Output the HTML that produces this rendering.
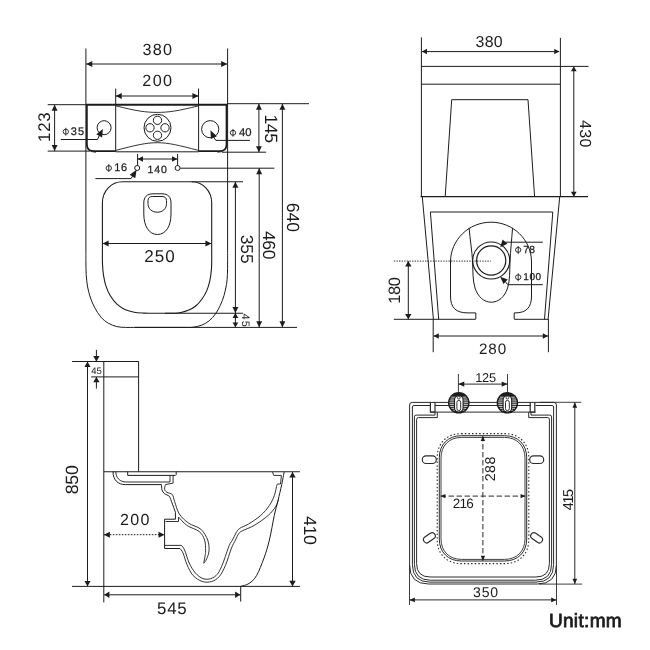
<!DOCTYPE html>
<html><head><meta charset="utf-8"><title>Toilet dimensions</title>
<style>
html,body{margin:0;padding:0;background:#fff;}
body{width:650px;height:650px;overflow:hidden;}
svg{display:block;will-change:transform;}
text{font-family:"Liberation Sans",sans-serif;text-rendering:geometricPrecision;}
</style></head><body>
<svg width="650" height="650" viewBox="0 0 650 650">
<rect width="650" height="650" fill="#fff"/>
<path d="M85.9 48.5V250C85.9 252.0 85.9 257.9 85.9 262.0C86.0 266.1 85.9 270.5 86.2 274.6C86.5 278.8 86.9 283.0 87.6 286.9C88.3 290.8 89.3 294.5 90.5 298.0C91.7 301.5 93.1 304.6 94.8 307.8C96.5 311.0 98.7 314.5 100.9 317.1C103.2 319.7 105.6 321.6 108.3 323.2C111.0 324.8 114.0 325.9 116.9 326.6C119.8 327.3 122.5 327.3 125.5 327.4C128.5 327.5 133.4 327.4 135.0 327.4H185C186.4 327.4 190.4 327.6 193.2 327.2C196.0 326.8 199.1 326.2 201.8 325.1C204.5 324.0 206.9 322.7 209.2 320.8C211.5 318.9 213.6 316.6 215.4 314.0C217.2 311.4 218.9 308.5 220.3 305.4C221.7 302.3 223.0 299.0 224.0 295.5C225.0 292.0 225.9 288.0 226.5 284.5C227.1 281.0 227.2 278.4 227.4 274.6C227.6 270.9 227.6 266.1 227.6 262.0C227.6 257.9 227.6 252.0 227.6 250.0V48.5" stroke="#1c1c1c" stroke-width="1.0" fill="none" stroke-linejoin="round"/>
<path d="M86.2 64L227.2 64" stroke="#1c1c1c" stroke-width="1.0" fill="none"/>
<path d="M86.20 64.00L92.25 61.03L92.25 66.97Z" fill="#1c1c1c" stroke="none"/>
<path d="M227.20 64.00L221.15 66.97L221.15 61.03Z" fill="#1c1c1c" stroke="none"/>
<text x="142.50" y="55.29" font-size="16.20" letter-spacing="1.27" font-weight="normal" fill="#1c1c1c">380</text>
<path d="M115.7 88.6L115.7 104" stroke="#1c1c1c" stroke-width="1.0" fill="none"/>
<path d="M198.5 88.6L198.5 104" stroke="#1c1c1c" stroke-width="1.0" fill="none"/>
<path d="M115.7 96L198.5 96" stroke="#1c1c1c" stroke-width="1.0" fill="none"/>
<path d="M115.70 96.00L121.75 93.03L121.75 98.97Z" fill="#1c1c1c" stroke="none"/>
<path d="M198.50 96.00L192.45 98.97L192.45 93.03Z" fill="#1c1c1c" stroke="none"/>
<text x="142.34" y="85.99" font-size="16.20" letter-spacing="1.35" font-weight="normal" fill="#1c1c1c">200</text>
<path d="M47.7 104.7L86 104.7" stroke="#1c1c1c" stroke-width="1.0" fill="none"/>
<path d="M227 103.7L309 103.7" stroke="#1c1c1c" stroke-width="1.0" fill="none"/>
<path d="M86.2 104.7L227.2 104.7" stroke="#1c1c1c" stroke-width="2.1" fill="none"/>
<path d="M47.7 151.1L90 151.1" stroke="#1c1c1c" stroke-width="1.0" fill="none"/>
<path d="M222 152.2L266.2 152.2" stroke="#1c1c1c" stroke-width="1.0" fill="none"/>
<path d="M54.6 104.7L54.6 151.1" stroke="#1c1c1c" stroke-width="1.0" fill="none"/>
<path d="M54.60 104.70L57.57 110.75L51.63 110.75Z" fill="#1c1c1c" stroke="none"/>
<path d="M54.60 151.10L51.63 145.05L57.57 145.05Z" fill="#1c1c1c" stroke="none"/>
<text x="28.80" y="132.73" font-size="16.90" letter-spacing="0.64" font-weight="normal" fill="#1c1c1c" transform="rotate(-90 43.8 126.9)">123</text>
<path d="M258.9 103.7L258.9 152.2" stroke="#1c1c1c" stroke-width="1.0" fill="none"/>
<path d="M258.90 103.70L261.87 109.75L255.93 109.75Z" fill="#1c1c1c" stroke="none"/>
<path d="M258.90 152.20L255.93 146.15L261.87 146.15Z" fill="#1c1c1c" stroke="none"/>
<text x="256.32" y="135.27" font-size="17.86" letter-spacing="-0.59" font-weight="normal" fill="#1c1c1c" transform="rotate(90 271 129.2)">145</text>
<path d="M86.9 104.2V144.5Q86.9 151.2 94 151.2H115.7" stroke="#1c1c1c" stroke-width="1.7" fill="none" stroke-linejoin="round"/>
<path d="M198.6 151.2H219.5Q226.5 151.2 226.5 144.5V104.2" stroke="#1c1c1c" stroke-width="1.7" fill="none" stroke-linejoin="round"/>
<path d="M115.7 151.8L198.6 151.8" stroke="#1c1c1c" stroke-width="1" fill="none"/>
<path d="M86.4 142Q86.4 152.3 96 152.3M227.0 142Q227.0 152.3 217.5 152.3" stroke="#1c1c1c" stroke-width="0.8" fill="none" stroke-linejoin="round"/>
<path d="M115.7 104.2L115.7 151.8" stroke="#1c1c1c" stroke-width="1.0" fill="none"/>
<path d="M198.6 104.2L198.6 151.8" stroke="#1c1c1c" stroke-width="1.0" fill="none"/>
<path d="M115.7 105.8C136 111 146 112.4 157.2 112.4S178 111 198.6 105.8" stroke="#1c1c1c" stroke-width="0.9" fill="none" stroke-linejoin="round"/>
<path d="M115.7 150.4C136 145.1 146 142.7 157.2 142.7S178 145.1 198.6 150.4" stroke="#1c1c1c" stroke-width="0.9" fill="none" stroke-linejoin="round"/>
<circle cx="157.5" cy="127.8" r="13.5" stroke="#1c1c1c" stroke-width="1.0" fill="none"/>
<circle cx="157.5" cy="120.3" r="4.15" stroke="#1c1c1c" stroke-width="1.0" fill="none"/>
<circle cx="157.5" cy="135.3" r="4.15" stroke="#1c1c1c" stroke-width="1.0" fill="none"/>
<circle cx="150.0" cy="127.8" r="4.15" stroke="#1c1c1c" stroke-width="1.0" fill="none"/>
<circle cx="165.0" cy="127.8" r="4.15" stroke="#1c1c1c" stroke-width="1.0" fill="none"/>
<circle cx="104.1" cy="127.7" r="7" stroke="#1c1c1c" stroke-width="1.0" fill="none"/>
<path d="M60.9 139.5H97.5L99.7 134.9" stroke="#1c1c1c" stroke-width="1" fill="none" stroke-linejoin="round"/>
<path d="M102.90 129.00L102.09 137.41L96.29 134.26Z" fill="#1c1c1c" stroke="none"/>
<ellipse cx="65.8" cy="131.7" rx="2.7" ry="2.45" stroke="#1c1c1c" stroke-width="0.9" fill="none"/>
<path d="M65.8 127.79999999999998L65.8 135.6" stroke="#1c1c1c" stroke-width="0.9" fill="none"/>
<text x="70.81" y="134.79" font-size="10.99" letter-spacing="0.98" font-weight="normal" fill="#1c1c1c" stroke="#1c1c1c" stroke-width="0.25">35</text>
<circle cx="210.2" cy="129.2" r="8.6" stroke="#1c1c1c" stroke-width="1.0" fill="none"/>
<path d="M250 140.4H215.8L213.7 137.2" stroke="#1c1c1c" stroke-width="1" fill="none" stroke-linejoin="round"/>
<path d="M210.50 130.30L216.87 136.15L210.89 138.94Z" fill="#1c1c1c" stroke="none"/>
<ellipse cx="233" cy="132.8" rx="2.7" ry="2.45" stroke="#1c1c1c" stroke-width="0.9" fill="none"/>
<path d="M233 128.9L233 136.70000000000002" stroke="#1c1c1c" stroke-width="0.9" fill="none"/>
<text x="238.92" y="136.09" font-size="11.27" letter-spacing="0.07" font-weight="normal" fill="#1c1c1c" stroke="#1c1c1c" stroke-width="0.25">40</text>
<path d="M137.6 153.9L137.6 165.6" stroke="#1c1c1c" stroke-width="1.0" fill="none"/>
<path d="M177.6 153.9L177.6 165.6" stroke="#1c1c1c" stroke-width="1.0" fill="none"/>
<path d="M137.6 159L177.4 159" stroke="#1c1c1c" stroke-width="1.0" fill="none"/>
<path d="M137.60 159.00L143.00 156.36L143.00 161.64Z" fill="#1c1c1c" stroke="none"/>
<path d="M177.40 159.00L172.00 161.64L172.00 156.36Z" fill="#1c1c1c" stroke="none"/>
<text x="147.55" y="173.24" font-size="10.56" letter-spacing="0.91" font-weight="normal" fill="#1c1c1c" stroke="#1c1c1c" stroke-width="0.25">140</text>
<circle cx="137.2" cy="168" r="2.5" stroke="#1c1c1c" stroke-width="1.0" fill="none"/>
<circle cx="177.6" cy="168" r="2.5" stroke="#1c1c1c" stroke-width="1.0" fill="none"/>
<ellipse cx="108.8" cy="168.1" rx="2.7" ry="2.45" stroke="#1c1c1c" stroke-width="0.9" fill="none"/>
<path d="M108.8 164.2L108.8 172.0" stroke="#1c1c1c" stroke-width="0.9" fill="none"/>
<text x="114.32" y="171.19" font-size="10.99" letter-spacing="0.52" font-weight="normal" fill="#1c1c1c" stroke="#1c1c1c" stroke-width="0.25">16</text>
<path d="M95.4 178.6H131L133 175.5" stroke="#1c1c1c" stroke-width="1" fill="none" stroke-linejoin="round"/>
<path d="M136.60 169.80L135.28 178.14L129.68 174.65Z" fill="#1c1c1c" stroke="none"/>
<path d="M180.2 168.2L274.4 168.2" stroke="#1c1c1c" stroke-width="1.0" fill="none"/>
<path d="M243 181.8H122.4A20 21 0 0 0 102.4 202.8V250C102.4 252.3 102.3 259.9 102.5 264.0C102.7 268.1 102.9 271.0 103.4 274.6C104.0 278.2 104.7 282.2 105.8 285.7C106.9 289.2 108.3 292.4 110.2 295.5C112.1 298.6 114.4 301.8 116.9 304.2C119.5 306.6 122.6 308.4 125.5 309.7C128.4 311.0 131.1 311.6 134.2 312.2C137.3 312.8 141.0 312.9 144.0 313.1C147.0 313.3 150.7 313.2 152.0 313.2H243" stroke="#1c1c1c" stroke-width="1.1" fill="none" stroke-linejoin="round"/>
<path d="M165.0 313.2C166.6 313.2 172.2 313.3 174.8 313.2C177.5 313.1 178.7 313.0 180.9 312.5C183.2 312.0 185.8 311.4 188.3 310.3C190.8 309.2 193.4 307.9 195.7 306.0C197.9 304.1 200.0 301.8 201.8 299.2C203.7 296.6 205.5 293.7 206.8 290.6C208.1 287.5 209.0 284.3 209.8 280.8C210.6 277.3 211.1 272.8 211.4 269.7C211.7 266.6 211.6 265.6 211.7 262.3C211.8 259.0 211.7 252.1 211.7 250.0V202.8A20 21 0 0 0 191.7 181.8" stroke="#1c1c1c" stroke-width="1.1" fill="none" stroke-linejoin="round"/>
<path d="M135 327.4L297 327.4" stroke="#1c1c1c" stroke-width="1.0" fill="none"/>
<path d="M143.8 203C143.8 197 147 193.8 153 193.8H162C168 193.8 171 197 171 203V214C171 226 166 234.5 157.4 234.5C149 234.5 143.8 226 143.8 214Z" stroke="#1c1c1c" stroke-width="1.0" fill="none" stroke-linejoin="round"/>
<path d="M148 200.5C148 198 149.5 196.5 152.5 196.5H162C165 196.5 166.5 198 166.5 200.5V203.5C166.5 209 162.5 212.2 157.2 212.2C152 212.2 148 209 148 203.5Z" stroke="#1c1c1c" stroke-width="1.0" fill="none" stroke-linejoin="round"/>
<path d="M102.6 243.5L211.5 243.5" stroke="#1c1c1c" stroke-width="1.0" fill="none"/>
<path d="M102.60 243.50L108.65 240.53L108.65 246.47Z" fill="#1c1c1c" stroke="none"/>
<path d="M211.50 243.50L205.45 246.47L205.45 240.53Z" fill="#1c1c1c" stroke="none"/>
<text x="144.35" y="262.18" font-size="17.04" letter-spacing="1.04" font-weight="normal" fill="#1c1c1c">250</text>
<path d="M235.4 181.8L235.4 313.1" stroke="#1c1c1c" stroke-width="1.0" fill="none"/>
<path d="M235.40 181.80L238.37 187.85L232.43 187.85Z" fill="#1c1c1c" stroke="none"/>
<path d="M235.40 313.10L232.43 307.05L238.37 307.05Z" fill="#1c1c1c" stroke="none"/>
<text x="232.51" y="255.18" font-size="17.32" letter-spacing="-0.07" font-weight="normal" fill="#1c1c1c" transform="rotate(90 246.9 249.2)">355</text>
<path d="M235.4 313.1L235.4 327.3" stroke="#1c1c1c" stroke-width="1.0" fill="none"/>
<path d="M235.40 313.10L238.26 317.96L232.54 317.96Z" fill="#1c1c1c" stroke="none"/>
<path d="M235.40 327.30L232.54 322.44L238.26 322.44Z" fill="#1c1c1c" stroke="none"/>
<text x="239.33" y="323.69" font-size="10.86" letter-spacing="1.10" font-weight="normal" fill="#1c1c1c" transform="rotate(90 245.8 320)">45</text>
<path d="M259.2 168.2L259.2 327.3" stroke="#1c1c1c" stroke-width="1.0" fill="none"/>
<path d="M259.20 168.20L262.17 174.25L256.23 174.25Z" fill="#1c1c1c" stroke="none"/>
<path d="M259.20 327.30L256.23 321.25L262.17 321.25Z" fill="#1c1c1c" stroke="none"/>
<text x="255.10" y="251.07" font-size="17.61" letter-spacing="-0.42" font-weight="normal" fill="#1c1c1c" transform="rotate(90 269.2 245)">460</text>
<path d="M282.4 103.7L282.4 327.3" stroke="#1c1c1c" stroke-width="1.0" fill="none"/>
<path d="M282.40 103.70L285.37 109.75L279.43 109.75Z" fill="#1c1c1c" stroke="none"/>
<path d="M282.40 327.30L279.43 321.25L285.37 321.25Z" fill="#1c1c1c" stroke="none"/>
<text x="277.87" y="223.47" font-size="17.61" letter-spacing="-0.06" font-weight="normal" fill="#1c1c1c" transform="rotate(90 292.6 217.4)">640</text>
<path d="M421.4 37.4L421.4 196.7" stroke="#1c1c1c" stroke-width="1.0" fill="none"/>
<path d="M560.4 37.8L560.4 196.7" stroke="#1c1c1c" stroke-width="1.0" fill="none"/>
<path d="M422 51.6L559.2 51.6" stroke="#1c1c1c" stroke-width="1.0" fill="none"/>
<path d="M422.00 51.60L426.97 48.85L426.97 54.35Z" fill="#1c1c1c" stroke="none"/>
<path d="M559.20 51.60L554.23 54.35L554.23 48.85Z" fill="#1c1c1c" stroke="none"/>
<text x="475.61" y="46.69" font-size="15.92" letter-spacing="0.20" font-weight="normal" fill="#1c1c1c">380</text>
<path d="M421.4 66.4L588.5 66.4" stroke="#1c1c1c" stroke-width="1.0" fill="none"/>
<path d="M421.4 84.2L560 84.2" stroke="#1c1c1c" stroke-width="1.0" fill="none"/>
<path d="M420.6 196.7L588 196.7" stroke="#1c1c1c" stroke-width="1.2" fill="none"/>
<path d="M445.2 196.7L451.7 99.7H528L534.6 196.7" stroke="#1c1c1c" stroke-width="1.0" fill="none" stroke-linejoin="round"/>
<path d="M573.8 66.4L573.8 196.7" stroke="#1c1c1c" stroke-width="1.0" fill="none"/>
<path d="M573.80 66.40L576.66 71.37L570.94 71.37Z" fill="#1c1c1c" stroke="none"/>
<path d="M573.80 196.70L570.94 191.73L576.66 191.73Z" fill="#1c1c1c" stroke="none"/>
<text x="572.43" y="139.04" font-size="16.06" letter-spacing="0.32" font-weight="normal" fill="#1c1c1c" transform="rotate(90 586 133.5)">430</text>
<path d="M422.3 197L433.4 319" stroke="#1c1c1c" stroke-width="1.0" fill="none"/>
<path d="M559.7 197L548.1 319" stroke="#1c1c1c" stroke-width="1.0" fill="none"/>
<path d="M438.7 319.3L430.4 212H552.8L544.5 319.3" stroke="#1c1c1c" stroke-width="1.0" fill="none" stroke-linejoin="round"/>
<path d="M393.8 319.3L475.8 319.3" stroke="#1c1c1c" stroke-width="1.0" fill="none"/>
<path d="M514.2 319.3L548.3 319.3" stroke="#1c1c1c" stroke-width="1.0" fill="none"/>
<path d="M433.2 319L433.2 352.2" stroke="#1c1c1c" stroke-width="1.0" fill="none"/>
<path d="M548.4 319L548.4 352.2" stroke="#1c1c1c" stroke-width="1.0" fill="none"/>
<path d="M433.6 336L548 336" stroke="#1c1c1c" stroke-width="1.0" fill="none"/>
<path d="M433.60 336.00L438.78 333.36L438.78 338.64Z" fill="#1c1c1c" stroke="none"/>
<path d="M548.00 336.00L542.82 338.64L542.82 333.36Z" fill="#1c1c1c" stroke="none"/>
<text x="478.94" y="354.45" font-size="15.21" letter-spacing="0.98" font-weight="normal" fill="#1c1c1c">280</text>
<path d="M475.8 319V312.9H468C456 312.9 450.5 308 450.5 296V262C450.5 240 468.6 222.2 491 222.2C513.4 222.2 531.5 240 531.5 262V296C531.5 308 526 312.9 515 312.9H514.2V319" stroke="#1c1c1c" stroke-width="1.0" fill="none" stroke-linejoin="round"/>
<path d="M469.1 227.8C470 240 472 250 472.6 262C473 272 472.6 280 475 288C478 297 484 302.2 491.3 302.2C498.6 302.2 504.6 297 507.6 288C510 280 509.6 272 510 262C510.6 250 511.6 240 512.6 227.8" stroke="#1c1c1c" stroke-width="1.0" fill="none" stroke-linejoin="round"/>
<circle cx="491.2" cy="260.5" r="18.5" stroke="#1c1c1c" stroke-width="1.1" fill="none"/>
<circle cx="491.2" cy="260.5" r="14.6" stroke="#1c1c1c" stroke-width="1.2" fill="none"/>
<path d="M393.8 261.1L490.8 261.1" stroke="#1c1c1c" stroke-width="0.9" fill="none" stroke-dasharray="1.4 1.2"/>
<path d="M408.3 261.1L408.3 319.3" stroke="#1c1c1c" stroke-width="1.0" fill="none"/>
<path d="M408.30 261.10L411.49 266.50L405.11 266.50Z" fill="#1c1c1c" stroke="none"/>
<path d="M408.30 319.30L405.11 313.90L411.49 313.90Z" fill="#1c1c1c" stroke="none"/>
<text x="380.38" y="295.69" font-size="16.48" letter-spacing="-0.47" font-weight="normal" fill="#1c1c1c" transform="rotate(-90 394 290)">180</text>
<path d="M504.5 242.2L542.8 242.2" stroke="#1c1c1c" stroke-width="1.0" fill="none"/>
<path d="M500.20 247.20L502.57 239.55L507.41 243.71Z" fill="#1c1c1c" stroke="none"/>
<path d="M507.8 284.7L542.8 284.7" stroke="#1c1c1c" stroke-width="1.0" fill="none"/>
<path d="M500.20 276.80L507.77 279.41L503.46 284.11Z" fill="#1c1c1c" stroke="none"/>
<path d="M507.8 284.7L505 281.2" stroke="#1c1c1c" stroke-width="1.0" fill="none"/>
<ellipse cx="518.2" cy="249.9" rx="2.7" ry="2.45" stroke="#1c1c1c" stroke-width="0.9" fill="none"/>
<path d="M518.2 246.0L518.2 253.8" stroke="#1c1c1c" stroke-width="0.9" fill="none"/>
<text x="523.19" y="252.55" font-size="10.28" letter-spacing="0.31" font-weight="normal" fill="#1c1c1c" stroke="#1c1c1c" stroke-width="0.25">78</text>
<ellipse cx="518.2" cy="277.2" rx="2.7" ry="2.45" stroke="#1c1c1c" stroke-width="0.9" fill="none"/>
<path d="M518.2 273.3L518.2 281.09999999999997" stroke="#1c1c1c" stroke-width="0.9" fill="none"/>
<text x="523.30" y="280.05" font-size="10.00" letter-spacing="0.55" font-weight="normal" fill="#1c1c1c" stroke="#1c1c1c" stroke-width="0.25">100</text>
<path d="M72.1 361.5L138.6 361.5" stroke="#1c1c1c" stroke-width="1.0" fill="none"/>
<path d="M91.2 376.9L138.6 376.9" stroke="#1c1c1c" stroke-width="1.0" fill="none"/>
<path d="M103.8 361.4L103.8 602.4" stroke="#1c1c1c" stroke-width="1.0" fill="none"/>
<path d="M138.6 361.4L138.6 471.6" stroke="#1c1c1c" stroke-width="1.0" fill="none"/>
<path d="M87.5 361.5L87.5 586.4" stroke="#1c1c1c" stroke-width="1.0" fill="none"/>
<path d="M87.50 361.50L90.58 366.90L84.42 366.90Z" fill="#1c1c1c" stroke="none"/>
<path d="M87.50 586.40L84.42 581.00L90.58 581.00Z" fill="#1c1c1c" stroke="none"/>
<text x="57.54" y="485.82" font-size="17.75" letter-spacing="-0.26" font-weight="normal" fill="#1c1c1c" transform="rotate(-90 72.1 479.7)">850</text>
<path d="M96.4 349.8L96.4 361.4" stroke="#1c1c1c" stroke-width="1.0" fill="none"/>
<path d="M96.40 361.40L93.21 356.11L99.59 356.11Z" fill="#1c1c1c" stroke="none"/>
<path d="M96.4 388.6L96.4 377" stroke="#1c1c1c" stroke-width="1.0" fill="none"/>
<path d="M96.40 377.00L99.59 382.29L93.21 382.29Z" fill="#1c1c1c" stroke="none"/>
<text x="91.26" y="373.85" font-size="9.57" letter-spacing="0.05" font-weight="normal" fill="#1c1c1c">45</text>
<path d="M103.8 471.8L299.9 471.8" stroke="#1c1c1c" stroke-width="1.1" fill="none"/>
<path d="M72 586.4L299.9 586.4" stroke="#1c1c1c" stroke-width="1.0" fill="none"/>
<path d="M292.5 471.9L292.5 586.4" stroke="#1c1c1c" stroke-width="1.0" fill="none"/>
<path d="M292.50 471.90L295.69 477.52L289.31 477.52Z" fill="#1c1c1c" stroke="none"/>
<path d="M292.50 586.40L289.31 580.78L295.69 580.78Z" fill="#1c1c1c" stroke="none"/>
<text x="295.90" y="536.42" font-size="17.75" letter-spacing="-0.44" font-weight="normal" fill="#1c1c1c" transform="rotate(90 310.1 530.3)">410</text>
<path d="M240.7 586.4L240.7 601.6" stroke="#1c1c1c" stroke-width="1.0" fill="none"/>
<path d="M104.2 594.8L240.3 594.8" stroke="#1c1c1c" stroke-width="1.0" fill="none"/>
<path d="M104.20 594.80L109.38 591.61L109.38 597.99Z" fill="#1c1c1c" stroke="none"/>
<path d="M240.30 594.80L235.12 597.99L235.12 591.61Z" fill="#1c1c1c" stroke="none"/>
<text x="157.03" y="613.83" font-size="16.86" letter-spacing="0.75" font-weight="normal" fill="#1c1c1c">545</text>
<path d="M127.7 471.6V475.4H175.4L176.2 474.6V471.6" stroke="#1c1c1c" stroke-width="1.0" fill="none" stroke-linejoin="round"/>
<path d="M113 471.6C113 480 118 484.6 125.4 484.6H161.5 C161.6 485.5 161.5 488.5 162.0 490.0C162.5 491.5 163.4 492.8 164.6 493.8C165.8 494.8 168.0 494.9 169.2 496.2C170.3 497.5 170.5 498.8 171.5 501.5C172.5 504.2 174.8 510.5 175.4 512.3V519.2H164.6V548.5H180" stroke="#1c1c1c" stroke-width="1" fill="none" stroke-linejoin="round"/>
<path d="M115.8 471.6C115.8 478 120 482 126.2 482H170V475.4M173.1 475.4V483.1L165.4 484.6" stroke="#1c1c1c" stroke-width="0.9" fill="none" stroke-linejoin="round"/>
<path d="M165.4 484.6C165.3 485.4 164.3 487.9 164.6 489.2C164.8 490.5 165.6 491.4 166.9 492.3C168.2 493.2 171.0 493.1 172.3 494.6C173.6 496.1 173.4 498.3 174.6 501.5C175.8 504.7 176.9 510.2 179.2 513.8C181.5 517.4 184.9 520.5 188.5 523.1C192.1 525.7 197.6 526.4 200.8 529.2C204.0 532.0 206.3 536.4 207.7 540.0C209.1 543.6 209.2 547.6 209.0 550.8C208.8 554.0 207.5 556.9 206.6 559.0C205.7 561.1 204.3 562.5 203.8 563.2" stroke="#1c1c1c" stroke-width="0.9" fill="none" stroke-linejoin="round"/>
<path d="M203.8 563.2C204.0 562.0 204.7 558.1 205.0 556.0C205.3 553.9 205.7 553.5 205.6 550.8C205.5 548.1 205.7 543.2 204.6 540.0C203.5 536.8 202.1 533.9 199.2 531.5C196.2 529.1 190.3 527.8 186.9 525.4C183.5 523.0 179.9 518.4 178.5 517.0V521.5H165.6" stroke="#1c1c1c" stroke-width="0.9" fill="none" stroke-linejoin="round"/>
<path d="M180.0 548.5C180.5 549.2 181.8 550.3 183.0 553.0C184.2 555.7 185.3 560.9 187.0 564.6C188.7 568.3 190.4 572.6 193.0 575.4C195.6 578.2 199.2 580.5 202.3 581.5C205.4 582.5 208.7 582.3 211.5 581.5C214.3 580.7 216.9 579.3 219.2 576.6C221.5 573.9 223.3 570.3 225.4 565.5C227.5 560.7 229.8 552.2 231.5 548.0C233.2 543.8 234.3 542.4 235.5 540.0C236.7 537.6 237.5 535.3 238.6 533.8C239.7 532.3 239.6 532.2 242.3 530.8C245.0 529.4 250.3 527.8 254.6 525.2C258.9 522.6 264.7 518.5 268.2 515.4C271.7 512.3 273.8 509.5 275.5 506.8C277.2 504.1 278.1 500.6 278.6 499.4" stroke="#1c1c1c" stroke-width="0.9" fill="none" stroke-linejoin="round"/>
<path d="M164.6 545.4H181.5C182.0 546.2 183.3 547.1 184.6 550.0C185.9 552.9 187.4 559.2 189.2 563.0C191.0 566.8 193.1 570.4 195.4 573.0C197.7 575.6 200.4 577.7 203.0 578.6C205.6 579.5 208.4 579.4 210.8 578.6C213.2 577.8 215.7 576.4 217.7 573.8C219.7 571.2 221.1 567.7 223.0 563.0C224.9 558.3 227.6 549.3 229.2 545.5C230.8 541.7 231.3 542.1 232.5 540.0C233.7 537.9 235.0 534.6 236.2 532.6C237.4 530.6 237.8 529.7 239.8 528.3C241.9 526.9 245.0 526.1 248.5 524.0C252.0 521.9 257.3 518.5 260.8 515.4C264.3 512.3 267.1 508.8 269.4 505.5C271.6 502.2 273.1 498.9 274.3 495.7C275.5 492.5 276.0 488.4 276.5 486.5C277.0 484.6 277.2 484.4 277.4 484.0H280.5L281.4 475.4H273.7L272.5 471.9" stroke="#1c1c1c" stroke-width="0.9" fill="none" stroke-linejoin="round"/>
<path d="M284.2 471.9C283.8 474.0 282.7 479.8 281.7 484.6C280.7 489.4 279.2 495.5 278.0 500.6C276.8 505.7 275.7 508.8 274.3 515.4C272.9 522.0 271.1 532.9 269.4 540.0C267.7 547.1 266.1 552.1 264.0 558.0C261.9 563.9 259.1 571.2 256.6 575.5C254.1 579.8 251.7 581.7 249.0 583.5C246.3 585.3 242.0 585.9 240.6 586.4" stroke="#1c1c1c" stroke-width="1" fill="none" stroke-linejoin="round"/>
<path d="M103.8 534.7L164.6 534.7" stroke="#1c1c1c" stroke-width="1.0" fill="none" stroke-dasharray="1.6 1.4"/>
<path d="M103.80 534.70L109.85 531.73L109.85 537.67Z" fill="#1c1c1c" stroke="none"/>
<path d="M164.60 534.70L158.55 537.67L158.55 531.73Z" fill="#1c1c1c" stroke="none"/>
<text x="120.00" y="524.74" font-size="16.06" letter-spacing="1.32" font-weight="normal" fill="#1c1c1c">200</text>
<path d="M412.1 402.4H553.9Q556.4 402.4 556.4 404.9V565Q556.4 584 537.4 584H428.6Q409.6 584 409.6 565V404.9Q409.6 402.4 412.1 402.4Z" stroke="#2a2a2a" stroke-width="1" fill="none" stroke-linejoin="round"/>
<path d="M430.4 405.5H413.9Q412.4 405.5 412.4 407.0V564.6Q412.4 582.1 429.9 582.1H536.1Q553.6 582.1 553.6 564.6V407.0Q553.6 405.5 552.1 405.5H535.6" stroke="#2a2a2a" stroke-width="1" fill="none" stroke-linejoin="round"/>
<path d="M435 405.5L531.0 405.5" stroke="#2a2a2a" stroke-width="1" fill="none"/>
<path d="M435 412.1V415.1H416.2Q414.4 415.1 414.4 416.90000000000003V564.2Q414.4 580.2 430.4 580.2H535.6Q551.6 580.2 551.6 564.2V416.90000000000003Q551.6 415.1 549.8000000000001 415.1H531.0V412.1" stroke="#2a2a2a" stroke-width="1" fill="none" stroke-linejoin="round"/>
<path d="M437.3 412.1V417.6H418.40000000000003Q416.6 417.6 416.6 419.40000000000003V563.5Q416.6 577 430.1 577H535.9Q549.4 577 549.4 563.5V419.40000000000003Q549.4 417.6 547.6 417.6H528.7V412.1" stroke="#2a2a2a" stroke-width="1" fill="none" stroke-linejoin="round"/>
<path d="M430.4 412.1L535.6 412.1" stroke="#2a2a2a" stroke-width="1" fill="none"/>
<path d="M430.4 402.4V412.1H435V402.4" stroke="#2a2a2a" stroke-width="1.2" fill="none" stroke-linejoin="round"/>
<path d="M534.8 402.4V412.1H530.2V402.4" stroke="#2a2a2a" stroke-width="1.2" fill="none" stroke-linejoin="round"/>
<path d="M461.2 433.6H504.79999999999995C519.1999999999999 433.6 528.8 443.20000000000005 528.8 457.6V539.6C528.8 554.0 519.1999999999999 563.6 504.79999999999995 563.6H461.2C446.8 563.6 437.2 554.0 437.2 539.6V457.6C437.2 443.20000000000005 446.8 433.6 461.2 433.6Z" stroke="#2a2a2a" stroke-width="1.1" fill="none" stroke-dasharray="1.5 2.1" stroke-linejoin="round"/>
<path d="M461.3 435.7H504.70000000000005C517.9000000000001 435.7 526.7 444.5 526.7 457.7V539C526.7 552.2 517.9000000000001 561 504.70000000000005 561H461.3C448.1 561 439.3 552.2 439.3 539V457.7C439.3 444.5 448.1 435.7 461.3 435.7Z" stroke="#2a2a2a" stroke-width="1" fill="none" stroke-linejoin="round"/>
<path d="M461.5 437.4H504.5C516.8 437.4 525.0 445.59999999999997 525.0 457.9V538.9C525.0 551.1999999999999 516.8 559.4 504.5 559.4H461.5C449.2 559.4 441.0 551.1999999999999 441.0 538.9V457.9C441.0 445.59999999999997 449.2 437.4 461.5 437.4Z" stroke="#2a2a2a" stroke-width="0.9" fill="none" stroke-linejoin="round"/>
<rect x="422.3" y="455.9" width="14" height="7.6" rx="3.8" ry="3.8" fill="#fff" stroke="#2a2a2a" stroke-width="1.15" transform="rotate(0 429.3 459.7)"/>
<rect x="529.7" y="455.9" width="14" height="7.6" rx="3.8" ry="3.8" fill="#fff" stroke="#2a2a2a" stroke-width="1.15" transform="rotate(0 536.7 459.7)"/>
<rect x="422.9" y="534.5999999999999" width="13" height="6.4" rx="3.2" ry="3.2" fill="#fff" stroke="#2a2a2a" stroke-width="1.15" transform="rotate(-35 429.4 537.8)"/>
<rect x="530.1" y="534.5999999999999" width="13" height="6.4" rx="3.2" ry="3.2" fill="#fff" stroke="#2a2a2a" stroke-width="1.15" transform="rotate(35 536.6 537.8)"/>
<circle cx="458.8" cy="402.8" r="10.8" fill="#1c1c1c"/>
<path d="M451.4 397.20H466.2" stroke="#fff" stroke-width="0.8"/>
<path d="M450.3 399.05H467.3" stroke="#fff" stroke-width="0.8"/>
<path d="M449.7 400.90H467.9" stroke="#fff" stroke-width="0.8"/>
<path d="M449.5 402.75H468.1" stroke="#fff" stroke-width="0.8"/>
<path d="M449.7 404.60H467.9" stroke="#fff" stroke-width="0.8"/>
<path d="M450.2 406.45H467.4" stroke="#fff" stroke-width="0.8"/>
<path d="M451.3 408.30H466.3" stroke="#fff" stroke-width="0.8"/>
<path d="M453.1 410.15H464.5" stroke="#fff" stroke-width="0.8"/>
<rect x="454.5" y="395.6" width="8.6" height="16.4" rx="4.3" fill="#fff" stroke="#1c1c1c" stroke-width="1.1"/>
<rect x="456.90000000000003" y="400.40000000000003" width="3.8" height="10.2" rx="1.9" fill="#fff" stroke="#1c1c1c" stroke-width="0.9"/>
<circle cx="458.8" cy="397.7" r="1.4" fill="#fff" stroke="#1c1c1c" stroke-width="0.8"/>
<circle cx="507.4" cy="402.8" r="10.8" fill="#1c1c1c"/>
<path d="M500.0 397.20H514.8" stroke="#fff" stroke-width="0.8"/>
<path d="M498.9 399.05H515.9" stroke="#fff" stroke-width="0.8"/>
<path d="M498.3 400.90H516.5" stroke="#fff" stroke-width="0.8"/>
<path d="M498.1 402.75H516.7" stroke="#fff" stroke-width="0.8"/>
<path d="M498.3 404.60H516.5" stroke="#fff" stroke-width="0.8"/>
<path d="M498.8 406.45H516.0" stroke="#fff" stroke-width="0.8"/>
<path d="M499.9 408.30H514.9" stroke="#fff" stroke-width="0.8"/>
<path d="M501.7 410.15H513.1" stroke="#fff" stroke-width="0.8"/>
<rect x="503.09999999999997" y="395.6" width="8.6" height="16.4" rx="4.3" fill="#fff" stroke="#1c1c1c" stroke-width="1.1"/>
<rect x="505.5" y="400.40000000000003" width="3.8" height="10.2" rx="1.9" fill="#fff" stroke="#1c1c1c" stroke-width="0.9"/>
<circle cx="507.4" cy="397.7" r="1.4" fill="#fff" stroke="#1c1c1c" stroke-width="0.8"/>
<path d="M458.4 374L458.4 392.5" stroke="#2a2a2a" stroke-width="0.9" fill="none"/>
<path d="M507.5 374L507.5 392.5" stroke="#2a2a2a" stroke-width="0.9" fill="none"/>
<path d="M458.4 384.1L507.5 384.1" stroke="#2a2a2a" stroke-width="1.0" fill="none"/>
<path d="M458.40 384.10L464.23 381.57L464.23 386.63Z" fill="#1c1c1c" stroke="none"/>
<path d="M507.50 384.10L501.67 386.63L501.67 381.57Z" fill="#1c1c1c" stroke="none"/>
<text x="475.17" y="382.22" font-size="12.82" letter-spacing="-0.23" font-weight="normal" fill="#1c1c1c">125</text>
<path d="M482.9 436L482.9 560.8" stroke="#2a2a2a" stroke-width="1.0" fill="none" stroke-dasharray="5.4 2.6"/>
<path d="M482.90 436.00L485.10 440.97L480.70 440.97Z" fill="#1c1c1c" stroke="none"/>
<path d="M482.90 560.80L480.70 555.83L485.10 555.83Z" fill="#1c1c1c" stroke="none"/>
<text x="477.89" y="473.81" font-size="14.23" letter-spacing="0.53" font-weight="normal" fill="#1c1c1c" transform="rotate(-90 490.3 468.9)">288</text>
<path d="M440.6 496.1L525.4 496.1" stroke="#2a2a2a" stroke-width="1.0" fill="none" stroke-dasharray="5.4 2.6"/>
<path d="M440.60 496.10L445.35 493.90L445.35 498.30Z" fill="#1c1c1c" stroke="none"/>
<path d="M525.40 496.10L520.65 498.30L520.65 493.90Z" fill="#1c1c1c" stroke="none"/>
<text x="452.87" y="507.96" font-size="13.52" letter-spacing="-0.76" font-weight="normal" fill="#1c1c1c">216</text>
<path d="M409.5 565L409.5 605" stroke="#2a2a2a" stroke-width="0.9" fill="none"/>
<path d="M556.5 565L556.5 605" stroke="#2a2a2a" stroke-width="0.9" fill="none"/>
<path d="M409.5 599.9L556.6 599.9" stroke="#2a2a2a" stroke-width="1.0" fill="none"/>
<path d="M409.50 599.90L414.90 597.59L414.90 602.21Z" fill="#1c1c1c" stroke="none"/>
<path d="M556.60 599.90L551.20 602.21L551.20 597.59Z" fill="#1c1c1c" stroke="none"/>
<text x="473.09" y="597.46" font-size="14.08" letter-spacing="0.75" font-weight="normal" fill="#1c1c1c">350</text>
<path d="M540 402.3L581.4 402.3" stroke="#2a2a2a" stroke-width="0.9" fill="none"/>
<path d="M539 584.1L582.2 584.1" stroke="#2a2a2a" stroke-width="0.9" fill="none"/>
<path d="M574.8 402.3L574.8 584.1" stroke="#2a2a2a" stroke-width="1.0" fill="none"/>
<path d="M574.80 402.30L577.11 407.70L572.49 407.70Z" fill="#1c1c1c" stroke="none"/>
<path d="M574.80 584.10L572.49 578.70L577.11 578.70Z" fill="#1c1c1c" stroke="none"/>
<text x="557.76" y="504.61" font-size="14.43" letter-spacing="-1.46" font-weight="normal" fill="#1c1c1c" transform="rotate(-90 568.2 499.7)">415</text>
<text x="548.88" y="627.06" font-size="19.05" letter-spacing="0.33" font-weight="normal" fill="#1c1c1c" stroke="#1c1c1c" stroke-width="0.8">Unit:mm</text>
</svg>
</body></html>
